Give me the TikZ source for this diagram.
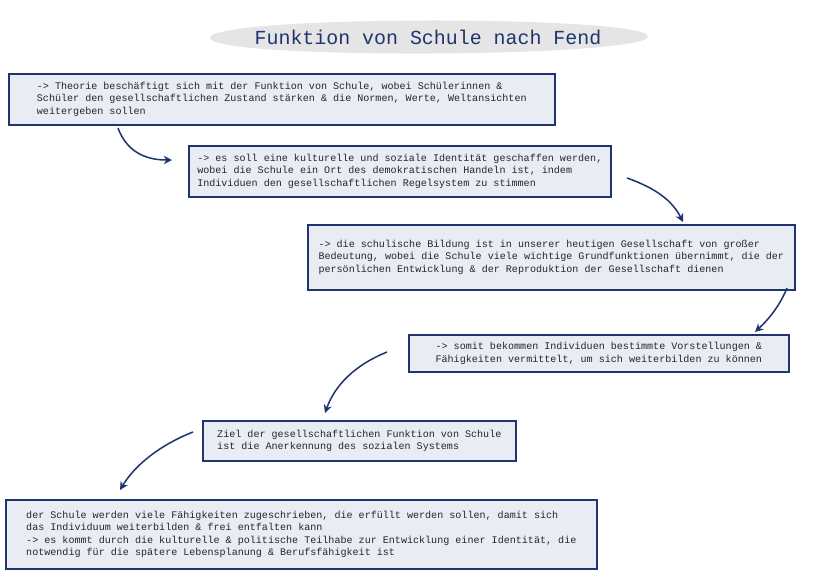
\documentclass[tikz,border=0pt]{standalone}
\usepackage{fontspec}
\setmainfont{Liberation Mono}
\usetikzlibrary{arrows.meta, positioning}
\definecolor{navy}{HTML}{1F3470}
\definecolor{boxfill}{HTML}{E9EDF3}
\tikzstyle{textbox} = [rectangle, draw=navy, line width=1.4pt, fill=boxfill, anchor=north west, align=left, inner sep=4pt, font=\fontsize{8.6}{10.6}\selectfont, text=black!85]
\tikzstyle{arrow} = [navy, line width=1.3pt, -{Stealth[length=7pt,width=7pt]}]
\begin{document}
\begin{tikzpicture}[x=0.03cm, y=-0.03cm]
\useasboundingbox (0,0) rectangle (828,586);

% Title
\fill[black!10] (210,38) .. controls (210,15) and (640,15) .. (648,36) .. controls (650,58) and (212,60) .. (210,38);
\node (title) at (428,37) {\fontsize{17}{20}\selectfont\color{navy}Funktion von Schule nach Fend};

% Boxes
\node (theorie) [textbox, minimum width=546*0.03cm, minimum height=51*0.03cm] at (8,73) {-> Theorie beschäftigt sich mit der Funktion von Schule, wobei Schülerinnen \&\\Schüler den gesellschaftlichen Zustand stärken \& die Normen, Werte, Weltansichten\\weitergeben sollen};
\node (identitaet) [textbox, minimum width=422*0.03cm, minimum height=51*0.03cm] at (188,145) {-> es soll eine kulturelle und soziale Identität geschaffen werden,\\wobei die Schule ein Ort des demokratischen Handeln ist, indem\\Individuen den gesellschaftlichen Regelsystem zu stimmen};
\node (bildung) [textbox, minimum width=487*0.03cm, minimum height=65*0.03cm] at (307,224) {-> die schulische Bildung ist in unserer heutigen Gesellschaft von großer\\Bedeutung, wobei die Schule viele wichtige Grundfunktionen übernimmt, die der\\persönlichen Entwicklung \& der Reproduktion der Gesellschaft dienen};
\node (faehig) [textbox, minimum width=380*0.03cm, minimum height=37*0.03cm] at (408,334) {-> somit bekommen Individuen bestimmte Vorstellungen \&\\Fähigkeiten vermittelt, um sich weiterbilden zu können};
\node (ziel) [textbox, minimum width=313*0.03cm, minimum height=40*0.03cm] at (202,420) {Ziel der gesellschaftlichen Funktion von Schule\\ist die Anerkennung des sozialen Systems};
\node (schule) [textbox, minimum width=591*0.03cm, minimum height=69*0.03cm] at (5,499) {der Schule werden viele Fähigkeiten zugeschrieben, die erfüllt werden sollen, damit sich\\das Individuum weiterbilden \& frei entfalten kann\\-> es kommt durch die kulturelle \& politische Teilhabe zur Entwicklung einer Identität, die\\notwendig für die spätere Lebensplanung \& Berufsfähigkeit ist};

% Arrows
\coordinate (a1) at (118,128);
\coordinate (b1) at (172,160);
\coordinate (a2) at (627,178);
\coordinate (b2) at (683,222);
\coordinate (a3) at (787,288);
\coordinate (b3) at (755,332);
\coordinate (a4) at (387,352);
\coordinate (b4) at (325,413);
\coordinate (a5) at (193,432);
\coordinate (b5) at (120,490);
\draw [arrow] (a1) .. controls (128,155) and (150,160) .. (b1);
\draw [arrow] (a2) .. controls (655,188) and (672,200) .. (b2);
\draw [arrow] (a3) .. controls (780,305) and (770,318) .. (b3);
\draw [arrow] (a4) .. controls (355,365) and (335,385) .. (b4);
\draw [arrow] (a5) .. controls (160,445) and (135,465) .. (b5);
\end{tikzpicture}
\end{document}
